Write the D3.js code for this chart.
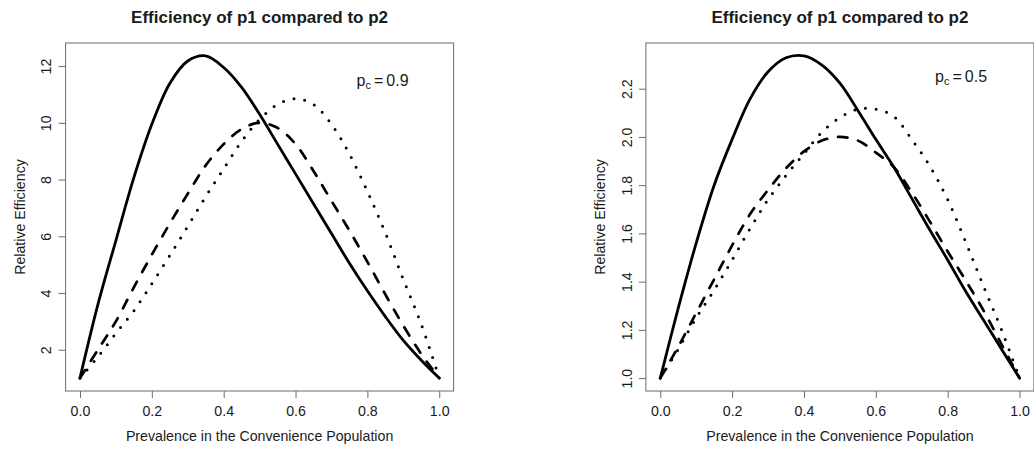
<!DOCTYPE html>
<html lang="en">
<head>
    <meta charset="UTF-8">
    <title>Efficiency of p1 compared to p2</title>
    <script src="https://d3js.org/d3.v7.min.js"></script>
    <style>
        body {
            margin: 0;
            padding: 0;
            background-color: #fff;
            font-family: "Liberation Sans", Arial, sans-serif;
        }
        svg text {
            fill: #1a1a1a;
        }
    </style>
</head>
<body>
    <div id="chart"></div>
    <script>
        // prevalence in the convenience population (x values shared by every curve)
        const prevalence = [0, 0.05, 0.1, 0.15, 0.2, 0.25, 0.3, 0.35, 0.4, 0.45, 0.5,
                            0.55, 0.6, 0.65, 0.7, 0.75, 0.8, 0.85, 0.9, 0.95, 1.0];

        // pc = 0.9 panel
        const eff09Solid  = [1, 3.6, 5.85, 8.07, 9.95, 11.39, 12.18, 12.36, 11.95, 11.25, 10.3,
                             9.25, 8.2, 7.15, 6.1, 5.05, 4.08, 3.17, 2.33, 1.63, 1.0];
        const eff09Dashed = [1, 2.0, 3.0, 4.2, 5.35, 6.45, 7.5, 8.5, 9.25, 9.78, 10.0,
                             9.82, 9.25, 8.3, 7.25, 6.2, 5.1, 3.95, 2.85, 1.85, 1.0];
        const eff09Dotted = [1, 1.75, 2.58, 3.37, 4.33, 5.32, 6.35, 7.4, 8.38, 9.35, 10.12,
                             10.65, 10.85, 10.65, 9.95, 8.9, 7.58, 6.12, 4.48, 2.9, 1.0];

        // pc = 0.5 panel
        const eff05Solid  = [1, 1.29, 1.56, 1.80, 1.99, 2.158, 2.27, 2.328, 2.336, 2.298, 2.223,
                             2.11, 1.99, 1.875, 1.745, 1.615, 1.49, 1.36, 1.24, 1.12, 1.0];
        const eff05Dashed = [1, 1.13, 1.27, 1.41, 1.55, 1.68, 1.78, 1.87, 1.94, 1.985, 2.0,
                             1.985, 1.935, 1.875, 1.77, 1.65, 1.525, 1.405, 1.28, 1.14, 1.0];
        const eff05Dotted = [1, 1.12, 1.25, 1.365, 1.49, 1.62, 1.74, 1.84, 1.93, 2.02, 2.08,
                             2.115, 2.115, 2.085, 1.99, 1.88, 1.74, 1.565, 1.38, 1.2, 1.0];

        const xTicks = [0, 0.2, 0.4, 0.6, 0.8, 1.0];
        const yTicks09 = [2, 4, 6, 8, 10, 12];
        const yTicks05 = [1.0, 1.2, 1.4, 1.6, 1.8, 2.0, 2.2];

        const title = "Efficiency of p1 compared to p2";
        const xTitle = "Prevalence in the Convenience Population";
        const yTitle = "Relative Efficiency";

        const width = 1034, height = 449;
        const boxW = 388, boxH = 348, boxTop = 43;

        const panels = [
            { left: 65.6, pc: "0.9", series: [eff09Solid, eff09Dashed, eff09Dotted],
              yTicks: yTicks09, fmt: d3.format("d"), note: [0.77, 11.3] },
            { left: 645.9, pc: "0.5", series: [eff05Solid, eff05Dashed, eff05Dotted],
              yTicks: yTicks05, fmt: d3.format(".1f"), note: [0.765, 2.226] }
        ];

        // solid, dashed, dotted (R lty 1, 2, 3)
        const lineStyles = [
            { w: 2.8, dash: null },
            { w: 2.7, dash: "9.5,11" },
            { w: 3.0, dash: "0,10.8" }
        ];

        const svg = d3.select("#chart")
            .append("svg")
            .attr("width", width)
            .attr("height", height);

        // R style axis range: data extent padded by 4% on each side
        function padded(ext) {
            const p = (ext[1] - ext[0]) * 0.04;
            return [ext[0] - p, ext[1] + p];
        }

        panels.forEach(panel => {
            const g = svg.append("g");

            const x = d3.scaleLinear()
                .domain(padded(d3.extent(prevalence)))
                .range([panel.left, panel.left + boxW]);

            const y = d3.scaleLinear()
                .domain(padded(d3.extent(panel.series.flat())))
                .range([boxTop + boxH, boxTop]);

            const line = d3.line()
                .x((_, i) => x(prevalence[i]))
                .y(d => y(d))
                .curve(d3.curveCatmullRom);

            panel.series.forEach((s, k) => {
                const path = g.append("path")
                    .datum(s)
                    .attr("fill", "none")
                    .attr("stroke", "#000")
                    .attr("stroke-width", lineStyles[k].w)
                    .attr("stroke-linecap", "round")
                    .attr("stroke-linejoin", "round")
                    .attr("d", line);
                if (lineStyles[k].dash) path.attr("stroke-dasharray", lineStyles[k].dash);
            });

            // box
            g.append("rect")
                .attr("x", panel.left)
                .attr("y", boxTop)
                .attr("width", boxW)
                .attr("height", boxH)
                .attr("fill", "none")
                .attr("stroke", "#6b6b6b")
                .attr("stroke-width", 1);

            // x axis
            const xAxis = g.append("g")
                .attr("transform", `translate(0,${boxTop + boxH})`)
                .call(d3.axisBottom(x).tickValues(xTicks).tickSize(7).tickPadding(8)
                    .tickFormat(d3.format(".1f")));
            xAxis.select(".domain").remove();

            // y axis with labels turned like R's las = 0
            const yAxis = g.append("g")
                .attr("transform", `translate(${panel.left},0)`)
                .call(d3.axisLeft(y).tickValues(panel.yTicks).tickSize(7).tickFormat(panel.fmt));
            yAxis.select(".domain").remove();
            yAxis.selectAll("text")
                .attr("transform", "rotate(-90)")
                .attr("x", 0)
                .attr("y", -14.4)
                .attr("dy", 0)
                .attr("text-anchor", "middle");

            [xAxis, yAxis].forEach(a => {
                a.selectAll("line").attr("stroke", "#6b6b6b");
                a.selectAll("text")
                    .style("font-size", "14.2px")
                    .style("font-family", "'Liberation Sans', Arial, sans-serif")
                    .attr("fill", "#1a1a1a");
            });

            const cx = panel.left + boxW / 2;

            g.append("text")
                .attr("x", cx)
                .attr("y", 23)
                .attr("text-anchor", "middle")
                .style("font-size", "17px")
                .style("font-weight", "bold")
                .text(title);

            g.append("text")
                .attr("x", cx)
                .attr("y", 441)
                .attr("text-anchor", "middle")
                .style("font-size", "14.2px")
                .text(xTitle);

            g.append("text")
                .attr("transform", `translate(${panel.left - 40.5},${boxTop + boxH / 2}) rotate(-90)`)
                .attr("text-anchor", "middle")
                .style("font-size", "14.2px")
                .text(yTitle);

            // p_c annotation
            const note = g.append("text")
                .attr("x", x(panel.note[0]))
                .attr("y", y(panel.note[1]))
                .style("font-size", "16px");
            note.append("tspan").text("p");
            note.append("tspan").attr("dy", 3).style("font-size", "11px").text("c");
            note.append("tspan").attr("dy", -3).attr("dx", 3).text("=");
            note.append("tspan").attr("dx", 3).text(panel.pc);
        });
    </script>
</body>
</html>
